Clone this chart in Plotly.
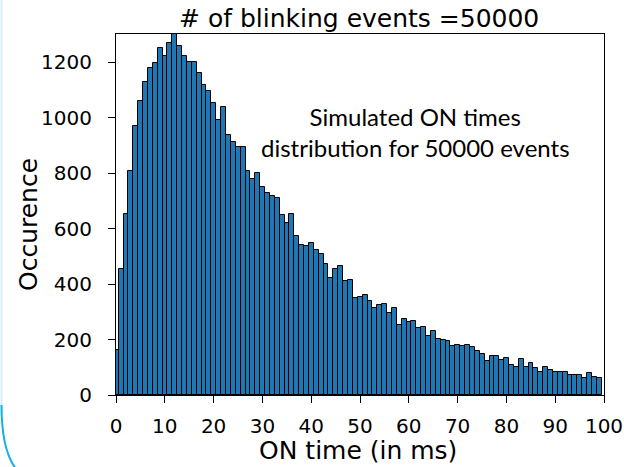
import plotly.graph_objects as go

# Histogram of simulated ON times (bin k spans [k-0.46, k+0.54] ms)
bin_index = list(range(100))
bin_offset = 0.04
counts = [162, 453, 652, 807, 969, 1061, 1128, 1177, 1198, 1249,
          1222, 1267, 1301, 1258, 1222, 1199, 1199, 1159, 1117, 1095,
          1051, 991, 1037, 937, 913, 895, 893, 807, 777, 799,
          751, 727, 718, 709, 649, 621, 652, 573, 541, 537,
          549, 523, 507, 471, 420, 453, 466, 411, 413, 348,
          352, 360, 339, 312, 324, 327, 294, 312, 251, 273,
          262, 266, 240, 244, 214, 231, 201, 197, 195, 178,
          179, 177, 179, 173, 157, 149, 124, 139, 139, 125,
          134, 107, 100, 130, 100, 114, 97, 84, 102, 90,
          83, 82, 82, 71, 71, 73, 60, 78, 64, 61]
x_ticks = [0, 10, 20, 30, 40, 50, 60, 70, 80, 90, 100]
y_ticks = [0, 200, 400, 600, 800, 1000, 1200]

W, H = 624, 467
L, R, T, B = 116, 20, 34, 72
pw, ph = W - L - R, H - T - B

def px(x):
    return (x - L) / pw

def py(y):
    return (H - B - y) / ph

centers = [k + bin_offset for k in bin_index]

fig = go.Figure()
fig.add_trace(go.Bar(
    x=centers, y=counts, width=1.0,
    marker=dict(color="#1f77b4", line=dict(color="black", width=1)),
    showlegend=False, hoverinfo="x+y",
))

tickfont = dict(family="DejaVu Sans", size=20, color="black")
fig.update_xaxes(range=[0, 100], tickvals=x_ticks, ticks="outside", ticklen=7,
                 tickwidth=1, tickcolor="black", showline=True, linecolor="black",
                 linewidth=1, mirror=True, showgrid=False, zeroline=False,
                 tickfont=tickfont, ticklabelstandoff=6, automargin=False)
fig.update_yaxes(range=[0, 1301], tickvals=y_ticks, ticks="outside", ticklen=7,
                 tickwidth=1, tickcolor="black", showline=True, linecolor="black",
                 linewidth=1, mirror=True, showgrid=False, zeroline=False,
                 tickfont=tickfont, ticklabelstandoff=12, automargin=False)

fig.update_layout(
    width=W, height=H,
    margin=dict(l=L, r=R, t=T, b=B, autoexpand=False),
    paper_bgcolor="white", plot_bgcolor="white",
    bargap=0,
)

titlefont = dict(family="DejaVu Sans", size=25, color="black")
fig.add_annotation(text="# of blinking events =50000", xref="paper", yref="paper",
                   x=px(359), y=py(19), showarrow=False, font=titlefont,
                   xanchor="center", yanchor="middle")
fig.add_annotation(text="ON time (in ms)", xref="paper", yref="paper",
                   x=px(358), y=py(450), showarrow=False, font=titlefont,
                   xanchor="center", yanchor="middle")
fig.add_annotation(text="Occurence", xref="paper", yref="paper",
                   x=px(28), y=py(225), showarrow=False, font=titlefont,
                   textangle=-90, xanchor="center", yanchor="middle")
fig.add_annotation(text="Simulated ON times<br>distribution for 50000 events",
                   xref="paper", yref="paper", x=px(415), y=py(132),
                   showarrow=False, align="center",
                   font=dict(family="Lato", size=24, color="black"),
                   xanchor="center", yanchor="middle")

# decorative slide frame at left edge
fig.add_shape(type="line", xref="paper", yref="paper",
              x0=px(1.5), x1=px(1.5), y0=py(0), y1=py(415),
              line=dict(color="#d6f0fa", width=2))
fig.add_shape(type="path", xref="paper", yref="paper",
              path=f"M {px(1.5)} {py(405)} Q {px(1.5)} {py(452)} {px(17)} {py(470)}",
              line=dict(color="#19aee6", width=2))

fig.write_html("out.html", config={"displayModeBar": False},
               post_script="document.body.style.margin='0';")
